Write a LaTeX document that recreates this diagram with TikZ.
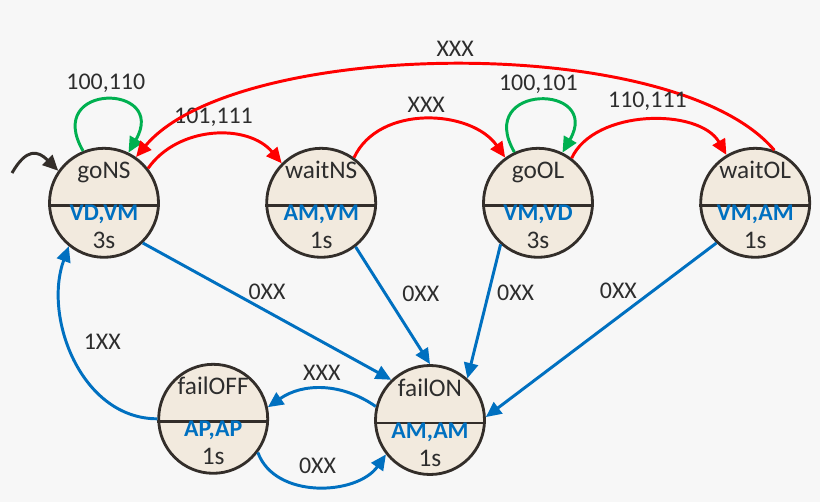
\documentclass[tikz,border=0pt]{standalone}
\usepackage{fontspec}
\setmainfont{Carlito}
\usetikzlibrary{arrows.meta}

\definecolor{stfill}{RGB}{242,234,222}
\definecolor{stline}{RGB}{51,46,42}
\definecolor{txt}{RGB}{45,45,45}
\definecolor{nsred}{RGB}{255,0,0}
\definecolor{okgreen}{RGB}{0,176,80}
\definecolor{failblue}{RGB}{0,112,192}
\definecolor{bg}{RGB}{247,247,247}

\begin{document}
\begin{tikzpicture}[
    font=\fontsize{17}{20}\selectfont,
    state/.style={circle, draw=stline, fill=stfill, line width=2pt, minimum size=2.725cm, inner sep=0pt},
    trans/.style={line width=2.1pt, -{Triangle[length=11pt,width=10pt]}},
    lbl/.style={text=txt, inner sep=2pt}
]
    % Background
    \fill[bg] (0,0) rectangle (20.5,12.55);
    \useasboundingbox (0,0) rectangle (20.5,12.55);

    % States
    \foreach \nm/\px/\py/\ttl/\outs/\tm in {
        gons/2.6/7.48/goNS/{VD,VM}/3s,
        waitns/8.03/7.48/waitNS/{AM,VM}/1s,
        gool/13.45/7.48/goOL/{VM,VD}/3s,
        waitol/18.88/7.48/waitOL/{VM,AM}/1s,
        failoff/5.33/2.08/failOFF/{AP,AP}/1s,
        failon/10.75/2.05/failON/{AM,AM}/1s} {
        \node[state] (\nm) at (\px,\py) {};
        \draw[stline, line width=2pt] (\nm.183) -- (\nm.-3);
        \node[anchor=base, text=txt, inner sep=0pt, font=\fontsize{18}{21}\selectfont] (\nm-ttl) at ([yshift=0.6cm]\nm.center) {\ttl};
        \node[anchor=base, text=failblue, inner sep=0pt, font=\fontsize{17}{20}\selectfont\bfseries] (\nm-out) at ([yshift=-0.45cm]\nm.center) {\outs};
        \node[anchor=base, text=txt, inner sep=0pt, font=\fontsize{18}{21}\selectfont] (\nm-tm) at ([yshift=-1.15cm]\nm.center) {\tm};
    }

    % Initial state
    \coordinate (init) at (0.3,8.225);
    \draw[trans, stline] (init) to[out=60, in=135, looseness=1.6] (gons.145);

    % Red and green transitions
    \draw[trans, okgreen] (gons.112) .. controls +(120:2) and +(60:2) .. (gons.64)
        node[lbl, midway, above=2pt] {100,110};
    \draw[trans, nsred] (gons.38) to[out=55, in=130] node[lbl, midway, above=3pt] {101,111} (waitns.135);
    \draw[trans, nsred] (waitol.70) to[out=130, in=50, looseness=0.62] node[lbl, midway, above=3pt] {XXX} (gons.55);
    \draw[trans, nsred] (waitns.54) to[out=65, in=125] node[lbl, midway, above=2pt] {XXX} (gool.126);
    \draw[trans, okgreen] (gool.115) .. controls +(120:2) and +(60:2) .. (gool.64)
        node[lbl, midway, above=2pt] {100,101};
    \draw[trans, nsred] (gool.53) to[out=65, in=120, looseness=0.9] node[lbl, midway, above=4pt] {110,111} (waitol.121);

    % Blue transitions
    \draw[trans, failblue] (gons.-46) -- node[lbl, midway, above=5pt] {0XX} (failon.134);
    \draw[trans, failblue] (waitns.-52) -- node[lbl, pos=0.4, right=9pt] {0XX} (failon.90);
    \draw[trans, failblue] (gool.228) -- node[lbl, pos=0.36, right=3pt] {0XX} (failon.48);
    \draw[trans, failblue] (waitol.226) -- node[lbl, pos=0.425, above=10pt] {0XX} (failon.3);
    \draw[trans, failblue] (failon.166) to[out=145, in=35] node[lbl, midway, above=3pt] {XXX} (failoff.12);
    \draw[trans, failblue] (failoff.-37) to[out=-70, in=-125] node[lbl, midway, above=6pt] {0XX} (failon.218);
    \draw[trans, failblue] (failoff.west) to[out=180, in=-110] node[lbl, pos=0.58, right=8pt] {1XX} (gons.231);
\end{tikzpicture}
\end{document}
